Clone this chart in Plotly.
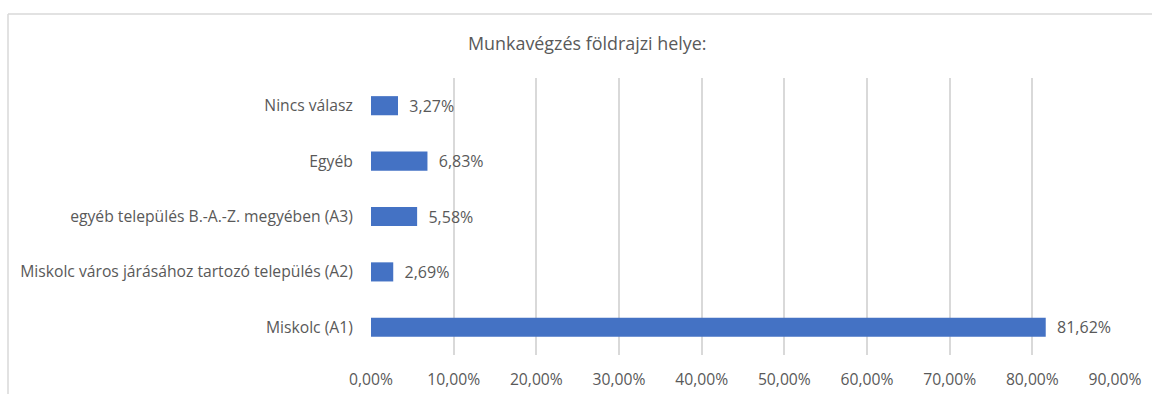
import plotly.graph_objects as go

# Survey answers: where the work is carried out
categories = [
    "Miskolc (A1)",
    "Miskolc város járásához tartozó település (A2)",
    "egyéb település B.-A.-Z. megyében (A3)",
    "Egyéb",
    "Nincs válasz",
]
shares = [81.62, 2.69, 5.58, 6.83, 3.27]  # percent
tick_values = [0, 10, 20, 30, 40, 50, 60, 70, 80, 90]
tick_labels = ["0,00%", "10,00%", "20,00%", "30,00%", "40,00%",
               "50,00%", "60,00%", "70,00%", "80,00%", "90,00%"]
title_text = "Munkavégzés földrajzi helye:"

W, H = 1152, 394
L, R, T, B = 371, 37, 78, 39
pw, ph = W - L - R, H - T - B

def px_x(x):
    return (x - L) / pw

def px_y(y):
    return 1 - (y - T) / ph

FONT = "Open Sans"
GREY = "#595959"

fig = go.Figure(
    go.Bar(
        x=shares,
        y=categories,
        orientation="h",
        marker=dict(color="#4472C4", line=dict(width=0)),
        text=["\u00a0\u00a0" + f"{v:.2f}".replace(".", ",") + "%" for v in shares],
        textposition="outside",
        constraintext="none",
        textfont=dict(family=FONT, size=16, color=GREY),
        cliponaxis=False,
        hoverinfo="skip",
    )
)

fig.update_layout(
    width=W,
    height=H,
    margin=dict(l=L, r=R, t=T, b=B, pad=0, autoexpand=False),
    paper_bgcolor="white",
    plot_bgcolor="white",
    bargap=0.655,
    showlegend=False,
    font=dict(family=FONT, size=15.7, color=GREY),
    xaxis=dict(
        range=[0, 90],
        tickvals=tick_values,
        ticktext=tick_labels,
        showgrid=True,
        gridcolor="#d9d9d9",
        gridwidth=1.5,
        zeroline=False,
        showline=False,
        ticks="outside",
        ticklen=10,
        tickcolor="rgba(0,0,0,0)",
        tickfont=dict(family=FONT, size=15.7, color=GREY),
        automargin=False,
        fixedrange=True,
    ),
    yaxis=dict(
        categoryorder="array",
        categoryarray=categories,
        showgrid=False,
        zeroline=False,
        showline=False,
        ticks="outside",
        ticklen=14,
        tickcolor="rgba(0,0,0,0)",
        tickfont=dict(family=FONT, size=15.7, color=GREY),
        automargin=False,
        fixedrange=True,
    ),
    annotations=[
        dict(
            text=title_text,
            x=px_x(587),
            y=px_y(43),
            xref="paper",
            yref="paper",
            showarrow=False,
            xanchor="center",
            yanchor="middle",
            font=dict(family=FONT, size=17.9, color=GREY),
        )
    ],
    shapes=[
        # chart frame: top and left edges
        dict(type="line", xref="paper", yref="paper",
             x0=px_x(8), x1=px_x(1160), y0=px_y(14), y1=px_y(14),
             line=dict(color="#d9d9d9", width=1.5)),
        dict(type="line", xref="paper", yref="paper",
             x0=px_x(8), x1=px_x(8), y0=px_y(14), y1=px_y(400),
             line=dict(color="#d9d9d9", width=1.5)),
    ],
)

fig.write_html("out.html")
